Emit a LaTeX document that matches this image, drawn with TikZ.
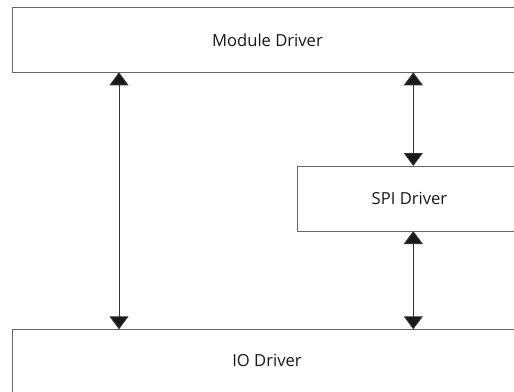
\documentclass[tikz,border=0pt]{standalone}
\usepackage{fontspec}
\setmainfont{Open Sans}
\usetikzlibrary{arrows.meta}
\begin{document}
\begin{tikzpicture}[x=1pt,y=-1pt,
  box/.style={draw=black!60,line width=0.9pt,fill=white},
  lbl/.style={font=\fontsize{16.6}{19}\selectfont,text=black!90,inner sep=0pt},
  conn/.style={draw=black!80,line width=0.9pt,{Triangle[width=19pt,length=13pt,fill=black!90]}-{Triangle[width=19pt,length=13pt,fill=black!90]}}]
\useasboundingbox (0,0) rectangle (514,391);
\clip (0,0) rectangle (514,391);
\fill[white] (0,0) rectangle (514,391);
\draw[box] (12,7.3) rectangle (530,72.3);
\draw[box] (297.7,166) rectangle (530,231);
\draw[box] (12,329.3) rectangle (530,400);
\node[lbl] (md) at (267.5,40.5) {Module Driver};
\node[lbl] (spi) at (409.5,198.5) {SPI Driver};
\node[lbl] (io) at (267,360) {IO Driver};
\coordinate (mA) at (119,72.3);
\coordinate (iA) at (119,329.3);
\coordinate (mB) at (413.3,72.3);
\coordinate (sBt) at (413.3,166);
\coordinate (sBb) at (413.3,231);
\coordinate (iB) at (413.3,329.3);
\draw[conn] (mA) -- (iA);
\draw[conn] (mB) -- (sBt);
\draw[conn] (sBb) -- (iB);
\end{tikzpicture}
\end{document}
